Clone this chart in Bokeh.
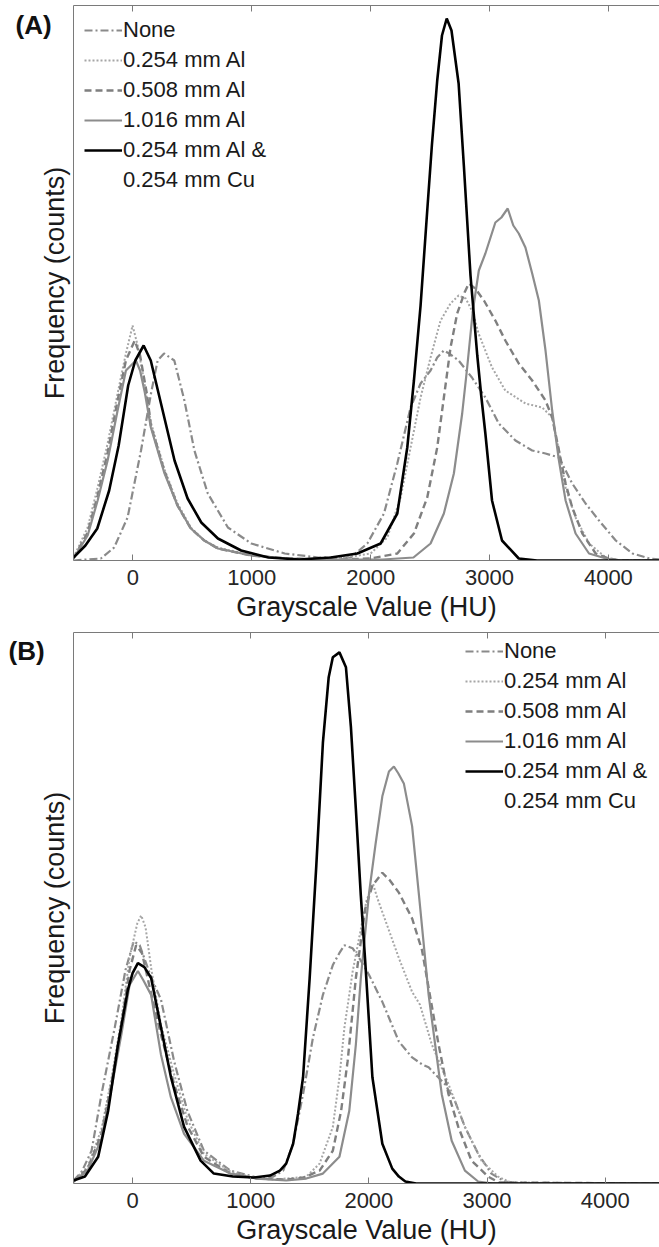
from bokeh.plotting import figure
from bokeh.models import Range1d, LinearAxis, FixedTicker, Legend, LegendItem, Label
from bokeh.layouts import column
from bokeh.embed import file_html
from bokeh.resources import INLINE

# ---------------- Panel A data (HU, frequency in arbitrary counts) ----------------
a_none_x = [-500, -270, -158, -45, 68, 152, 208, 262, 348, 433, 517, 630, 799, 996, 1277, 1558, 1755, 1832,
            1972, 2112, 2224, 2336, 2420, 2504, 2560, 2616, 2660, 2740, 2852, 2965, 3078, 3218, 3359, 3471,
            3584, 3696, 3808, 3921, 4062, 4203, 4345, 4430]
a_none_y = [0, 2, 13, 43, 110, 167, 200, 207, 200, 160, 110, 67, 33, 17, 7, 3, 3, 3,
            17, 47, 97, 153, 177, 190, 203, 210, 207, 200, 183, 163, 137, 120, 110, 107,
            103, 77, 57, 40, 20, 7, 2, 1]

a_al254_x = [-500, -381, -297, -213, -129, -59, -3, 40, 100, 151, 263, 375, 487, 600, 715, 996, 1300, 1600,
             1896, 2000, 2140, 2252, 2336, 2420, 2504, 2588, 2672, 2740, 2800, 2860, 2908, 3021, 3133, 3302,
             3443, 3527, 3584, 3640, 3724, 3837, 3978, 4100, 4430]
a_al254_y = [3, 33, 73, 117, 167, 207, 235, 215, 175, 138, 92, 57, 33, 20, 13, 5, 2, 1,
             5, 7, 23, 63, 113, 163, 203, 240, 257, 265, 262, 248, 227, 193, 170, 157,
             153, 143, 110, 73, 43, 17, 3, 0, 0]

a_al508_x = [-500, -381, -297, -213, -129, -59, 15, 60, 120, 151, 263, 375, 487, 600, 715, 996, 1300, 1700,
             2000, 2224, 2364, 2476, 2560, 2616, 2672, 2728, 2790, 2826, 2880, 2953, 3049, 3133, 3246, 3359,
             3471, 3527, 3584, 3640, 3696, 3781, 3893, 4000, 4100, 4430]
a_al508_y = [2, 28, 65, 108, 160, 200, 220, 205, 165, 135, 90, 55, 32, 20, 12, 5, 2, 1,
             2, 7, 27, 63, 113, 163, 213, 247, 268, 277, 272, 260, 240, 220, 197, 180,
             160, 143, 110, 77, 53, 27, 7, 2, 0, 0]

a_al1016_x = [-500, -381, -297, -213, -129, -59, 25, 60, 100, 151, 263, 375, 487, 600, 715, 996, 1300, 1700,
              2100, 2360, 2504, 2616, 2700, 2770, 2812, 2860, 2910, 2965, 3049, 3100, 3153, 3200, 3246, 3302,
              3359, 3415, 3471, 3527, 3584, 3640, 3724, 3837, 3980, 4100, 4430]
a_al1016_y = [2, 25, 60, 100, 150, 190, 200, 190, 168, 133, 88, 55, 32, 20, 12, 5, 2, 1,
              1, 3, 17, 47, 87, 147, 193, 250, 290, 307, 338, 343, 352, 335, 327, 313,
              287, 260, 210, 150, 100, 60, 27, 7, 2, 0, 0]

a_cu_x = [-500, -400, -300, -200, -120, -40, 20, 90, 150, 220, 300, 350, 460, 575, 715, 910, 1140, 1400,
          1664, 1888, 2084, 2224, 2308, 2364, 2420, 2476, 2515, 2560, 2600, 2640, 2680, 2740, 2784, 2840,
          2897, 2930, 2965, 3021, 3105, 3246, 3400, 4430]
a_cu_y = [3, 15, 32, 70, 115, 175, 200, 215, 200, 165, 125, 100, 62, 38, 22, 10, 3, 1,
          3, 7, 17, 47, 113, 180, 255, 350, 415, 480, 525, 542, 530, 477, 395, 285,
          205, 165, 127, 60, 20, 2, 0, 0]

# ---------------- Panel B data ----------------
b_none_x = [-500, -430, -347, -263, -151, -60, 10, 60, 150, 241, 352, 464, 604, 828, 1051, 1191, 1275, 1359,
            1443, 1527, 1611, 1695, 1750, 1793, 1862, 1930, 2002, 2114, 2254, 2366, 2450, 2506, 2561, 2645,
            2729, 2813, 2925, 3037, 3149, 3300, 4460]
b_none_y = [3, 12, 33, 90, 157, 215, 244, 240, 210, 185, 123, 73, 33, 13, 6, 7, 13, 40,
            90, 147, 190, 220, 232, 240, 237, 225, 210, 183, 143, 127, 120, 117, 110, 100,
            83, 57, 30, 10, 2, 0, 0]

b_al254_x = [-500, -380, -263, -180, -95, -25, 40, 73, 110, 160, 240, 352, 464, 604, 828, 1051, 1200, 1300,
             1400, 1471, 1583, 1695, 1751, 1793, 1834, 1862, 1930, 1980, 2035, 2070, 2170, 2254, 2366, 2433,
             2533, 2674, 2813, 2953, 3093, 3200, 4460]
b_al254_y = [2, 17, 55, 105, 165, 228, 262, 270, 258, 215, 160, 110, 65, 30, 12, 5, 4, 5,
             6, 7, 20, 57, 107, 157, 190, 213, 255, 285, 302, 288, 255, 227, 193, 180,
             140, 100, 57, 23, 7, 1, 0]

b_al508_x = [-500, -380, -263, -180, -95, -25, 30, 80, 150, 240, 352, 464, 604, 828, 1051, 1300, 1450, 1583,
             1695, 1765, 1820, 1862, 1890, 1970, 2030, 2114, 2180, 2254, 2366, 2450, 2590, 2674, 2757, 2869,
             3009, 3100, 4460]
b_al508_y = [2, 15, 50, 100, 160, 215, 240, 232, 195, 150, 100, 58, 27, 10, 5, 4, 6, 13,
             33, 73, 123, 173, 207, 277, 300, 313, 305, 293, 267, 235, 140, 90, 57, 23,
             7, 1, 0]

b_al1016_x = [-500, -380, -263, -180, -95, -25, 45, 90, 157, 240, 324, 436, 604, 828, 1051, 1300, 1470, 1611,
              1751, 1834, 1890, 1932, 2002, 2058, 2114, 2170, 2212, 2250, 2296, 2366, 2422, 2506, 2561, 2617,
              2701, 2813, 2925, 3050, 4460]
b_al1016_y = [2, 13, 45, 95, 150, 200, 214, 205, 190, 130, 87, 50, 23, 10, 5, 3, 5, 10,
              27, 73, 140, 207, 293, 343, 390, 415, 420, 413, 403, 360, 293, 190, 140, 90,
              43, 13, 2, 0, 0]

b_cu_x = [-500, -403, -291, -207, -123, -40, 0, 45, 100, 157, 241, 325, 436, 576, 688, 850, 1023, 1163,
          1247, 1300, 1359, 1400, 1443, 1499, 1555, 1611, 1660, 1695, 1751, 1806, 1848, 1890, 1932, 1974,
          2030, 2114, 2198, 2254, 2309, 2400, 4460]
b_cu_y = [3, 7, 27, 73, 140, 195, 212, 222, 218, 207, 157, 107, 57, 23, 10, 7, 6, 8,
          13, 20, 40, 70, 107, 207, 320, 444, 510, 530, 535, 520, 460, 377, 290, 215,
          107, 40, 15, 7, 2, 0, 0]

labels = ["None", "0.254 mm Al", "0.508 mm Al", "1.016 mm Al", "0.254 mm Al &", "0.254 mm Cu"]
x_ticks = [0, 1000, 2000, 3000, 4000]

FONT = "Liberation Sans"
AXIS_COL = "#7a7a7a"

styles = [
    dict(line_color="#8a8a8a", line_width=2.2, line_dash="8 3 2 3"),
    dict(line_color="#a6a6a6", line_width=2.0, line_dash="2 2"),
    dict(line_color="#7f7f7f", line_width=2.4, line_dash="7 4"),
    dict(line_color="#8c8c8c", line_width=2.2, line_dash="solid"),
    dict(line_color="#000000", line_width=2.6, line_dash="solid"),
]


def make_panel(tag, series, left, xend, height, bottom, legend_loc, tag_x, tag_y):
    p = figure(width=659, height=height, x_range=Range1d(-500, xend), y_range=Range1d(0, 555),
               output_backend="svg", toolbar_location=None,
               min_border_left=left, min_border_right=0, min_border_top=5, min_border_bottom=bottom,
               outline_line_color=None, background_fill_color="white", border_fill_color="white")
    p.xgrid.visible = False
    p.ygrid.visible = False

    rends = []
    for (xs, ys), st in zip(series, styles):
        rends.append(p.line(xs, ys, **st))
    ghost = p.line(series[-1][0], series[-1][1], line_alpha=0, line_width=2.6)

    # bottom axis
    xa = p.xaxis[0]
    xa.ticker = FixedTicker(ticks=x_ticks)
    xa.major_tick_in = 6
    xa.major_tick_out = 0
    xa.minor_tick_line_color = None
    xa.axis_line_color = AXIS_COL
    xa.major_tick_line_color = AXIS_COL
    xa.major_label_text_font = FONT
    xa.major_label_text_font_size = "22px"
    xa.major_label_text_color = "#262626"
    xa.major_label_standoff = 9
    xa.axis_label = "Grayscale Value (HU)"
    xa.axis_label_text_font = FONT
    xa.axis_label_text_font_size = "27px"
    xa.axis_label_text_font_style = "normal"
    xa.axis_label_text_color = "#1a1a1a"
    xa.axis_label_standoff = 4

    # top axis (box edge with inward ticks, no labels)
    top = LinearAxis(ticker=FixedTicker(ticks=x_ticks), major_tick_in=6, major_tick_out=0,
                     minor_tick_line_color=None, axis_line_color=AXIS_COL,
                     major_tick_line_color=AXIS_COL, major_label_text_font_size="0px",
                     major_label_text_color=None, major_label_text_alpha=0)
    p.add_layout(top, "above")

    # left axis: no ticks
    ya = p.yaxis[0]
    ya.ticker = FixedTicker(ticks=[])
    ya.minor_tick_line_color = None
    ya.major_tick_line_color = None
    ya.axis_line_color = AXIS_COL
    ya.axis_label = "Frequency (counts)"
    ya.axis_label_text_font = FONT
    ya.axis_label_text_font_size = "27px"
    ya.axis_label_text_font_style = "normal"
    ya.axis_label_text_color = "#1a1a1a"
    ya.axis_label_standoff = 4

    items = [LegendItem(label=labels[i], renderers=[rends[i]]) for i in range(5)]
    items.append(LegendItem(label=labels[5], renderers=[ghost]))
    leg = Legend(items=items, location=legend_loc, label_text_font=FONT, label_text_font_size="22px",
                 label_text_color="#1a1a1a", label_height=30, glyph_height=30, glyph_width=38,
                 spacing=0, padding=0, margin=0, label_standoff=1,
                 border_line_color=None, background_fill_alpha=0)
    p.add_layout(leg)

    # panel tag in the left side panel (outside the frame, so not clipped)
    p.add_layout(Label(x=tag_x, y=tag_y, x_units="screen", y_units="screen", text=tag,
                       text_font=FONT, text_font_style="bold", text_font_size="26px",
                       text_baseline="middle", text_align="left", text_color="#111111"), "left")
    return p


pA = make_panel("(A)", [(a_none_x, a_none_y), (a_al254_x, a_al254_y), (a_al508_x, a_al508_y),
                        (a_al1016_x, a_al1016_y), (a_cu_x, a_cu_y)],
                left=72, xend=4430, height=627, bottom=67, legend_loc=(11, 365), tag_x=15, tag_y=536)
pB = make_panel("(B)", [(b_none_x, b_none_y), (b_al254_x, b_al254_y), (b_al508_x, b_al508_y),
                        (b_al1016_x, b_al1016_y), (b_cu_x, b_cu_y)],
                left=68, xend=4460, height=620, bottom=60, legend_loc=(392, 367), tag_x=8, tag_y=533)

layout = column(pA, pB, spacing=0)
open("out.html", "w").write(file_html(layout, INLINE))
